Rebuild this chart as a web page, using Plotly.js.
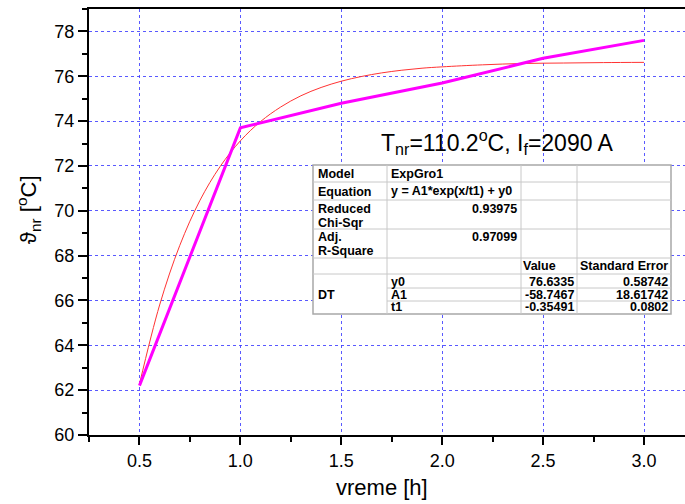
<!DOCTYPE html>
<html>
<head>
<meta charset="utf-8">
<script src="https://cdn.plot.ly/plotly-3.0.1.min.js"></script>
<style>html,body{margin:0;padding:0;background:#fff;}#chart{width:685px;height:504px;}</style>
</head>
<body>
<div id="chart"></div>
<script>
// measured data (magenta)
const timeH = [0.5, 1.0, 1.5, 2.0, 2.5, 3.0];
const tempMeasured = [62.2, 73.7, 74.8, 75.7, 76.8, 77.6];
// fitted curve (red)
const fitTime = [0.5, 0.6, 0.7, 0.8, 0.9, 1.0, 1.1, 1.2, 1.3, 1.4, 1.5, 1.6, 1.7, 1.8, 1.9, 2.0, 2.2, 2.4, 2.6, 2.8, 3.0];
const fitTemp = [62.27, 65.80, 68.46, 70.47, 71.98, 73.12, 73.98, 74.63, 75.13, 75.50, 75.78, 75.99, 76.15, 76.27, 76.36, 76.42, 76.51, 76.57, 76.59, 76.61, 76.62];
// ticks
const xTickVals = [0.5, 1.0, 1.5, 2.0, 2.5, 3.0];
const xTickText = ["0.5", "1.0", "1.5", "2.0", "2.5", "3.0"];
const yTickVals = [60, 62, 64, 66, 68, 70, 72, 74, 76, 78];
const yTickText = ["60", "62", "64", "66", "68", "70", "72", "74", "76", "78"];
// titles
const xTitle = "vreme [h]";
const yTitle = "ϑ<sub>nr</sub> [<sup>o</sup>C]";
const condText = "T<sub>nr</sub>=110.2<sup>o</sup>C, I<sub>f</sub>=2090 A";
// fit table texts
const tableLeft = ["Model", "Equation", "Reduced", "Chi-Sqr", "Adj.", "R-Square", "DT"];
const tableModel = "ExpGro1";
const tableEquation = "y = A1*exp(x/t1) + y0";
const statValues = ["0.93975", "0.97099"];
const paramNames = ["y0", "A1", "t1"];
const paramValues = ["76.6335", "-58.7467", "-0.35491"];
const paramErrors = ["0.58742", "18.61742", "0.0802"];

const L = 89, R = 685, T = 9, B = 435;
const px = p => (p - L) / (R - L);
const py = p => (B - p) / (B - T);
const FF = "Arial, 'Liberation Sans', sans-serif";

const shapes = [];
const annotations = [];
function hline(y, x0, x1, c, w) {
  shapes.push({type: 'line', xref: 'paper', yref: 'paper', x0: px(x0), x1: px(x1), y0: py(y), y1: py(y), line: {color: c, width: w}});
}
function vline(x, y0, y1, c, w) {
  shapes.push({type: 'line', xref: 'paper', yref: 'paper', x0: px(x), x1: px(x), y0: py(y0), y1: py(y1), line: {color: c, width: w}});
}
function txt(t, x, y, anchor) {
  annotations.push({xref: 'paper', yref: 'paper', x: px(x), y: py(y), xanchor: anchor, yanchor: 'middle',
    text: '<b>' + t + '</b>', showarrow: false, borderpad: 0,
    font: {family: FF, size: 12.5, color: '#000'}, align: 'left'});
}
// table
const tl = 313, tr = 671, tt = 165, tb = 314;
shapes.push({type: 'rect', xref: 'paper', yref: 'paper', x0: px(tl), x1: px(tr), y0: py(tt), y1: py(tb),
  fillcolor: '#ffffff', line: {color: '#a8a8a8', width: 1.5}});
const ic = '#c8c8c8';
[182, 200, 229, 258, 274].forEach(y => hline(y, tl, tr, ic, 1));
[288, 301].forEach(y => hline(y, 387, tr, ic, 1));
[387, 521, 577].forEach(x => vline(x, tt, tb, ic, 1));

const leftY = [174, 192, 209, 223, 237, 251, 295];
tableLeft.forEach((t, i) => txt(t, 317, leftY[i], 'left'));
txt(tableModel, 390, 174, 'left');
txt(tableEquation, 390, 191, 'left');
txt(statValues[0], 518, 209, 'right');
txt(statValues[1], 518, 237, 'right');
txt("Value", 522, 266, 'left');
txt("Standard Error", 669, 266, 'right');
const rowY = [282, 295, 307];
for (let i = 0; i < 3; i++) {
  txt(paramNames[i], 390, rowY[i], 'left');
  txt(paramValues[i], 575, rowY[i], 'right');
  txt(paramErrors[i], 669, rowY[i], 'right');
}
// condition annotation
annotations.push({xref: 'paper', yref: 'paper', x: px(497), y: py(142), xanchor: 'center', yanchor: 'middle',
  text: condText, showarrow: false, font: {family: FF, size: 23, color: '#000'}});
// axis titles
annotations.push({xref: 'paper', yref: 'paper', x: px(382), y: py(488), xanchor: 'center', yanchor: 'middle',
  text: xTitle, showarrow: false, font: {family: FF, size: 22, color: '#000'}});
annotations.push({xref: 'paper', yref: 'paper', x: px(28), y: py(210), xanchor: 'center', yanchor: 'middle',
  text: yTitle, textangle: -90, showarrow: false, font: {family: FF, size: 22, color: '#000'}});

const gridC = 'rgba(60,60,255,0.85)';
const data = [
  {x: fitTime, y: fitTemp, type: 'scatter', mode: 'lines', line: {color: '#ff3333', width: 1, shape: 'spline'}, hoverinfo: 'skip'},
  {x: timeH, y: tempMeasured, type: 'scatter', mode: 'lines', line: {color: '#ff00ff', width: 3}, hoverinfo: 'skip'}
];
const layout = {
  width: 685, height: 504,
  margin: {l: L, r: 685 - R, t: T, b: 504 - B, pad: 0},
  paper_bgcolor: '#fff', plot_bgcolor: '#fff',
  showlegend: false,
  font: {family: FF, color: '#000'},
  xaxis: {
    range: [0.25, 3.203], tickvals: xTickVals, ticktext: xTickText,
    ticks: 'outside', ticklen: 8, tickwidth: 2, tickcolor: '#000',
    showline: true, linecolor: '#000', linewidth: 2, mirror: true,
    showgrid: true, gridcolor: gridC, griddash: 'dot', gridwidth: 1, zeroline: false,
    tickfont: {size: 18, family: FF, color: '#000'},
    minor: {dtick: 0.25, tick0: 0.25, ticks: 'outside', ticklen: 5, tickwidth: 2, tickcolor: '#000', showgrid: false}
  },
  yaxis: {
    range: [60, 79], tickvals: yTickVals, ticktext: yTickText,
    ticks: 'outside', ticklen: 9, tickwidth: 2, tickcolor: '#000',
    showline: true, linecolor: '#000', linewidth: 2,
    showgrid: true, gridcolor: gridC, griddash: 'dot', gridwidth: 1, zeroline: false,
    tickfont: {size: 18, family: FF, color: '#000'},
    minor: {dtick: 1, tick0: 60, ticks: 'outside', ticklen: 5, tickwidth: 2, tickcolor: '#000', showgrid: false}
  },
  shapes: shapes,
  annotations: annotations
};
Plotly.newPlot('chart', data, layout, {displayModeBar: false, staticPlot: true});
</script>
</body>
</html>
